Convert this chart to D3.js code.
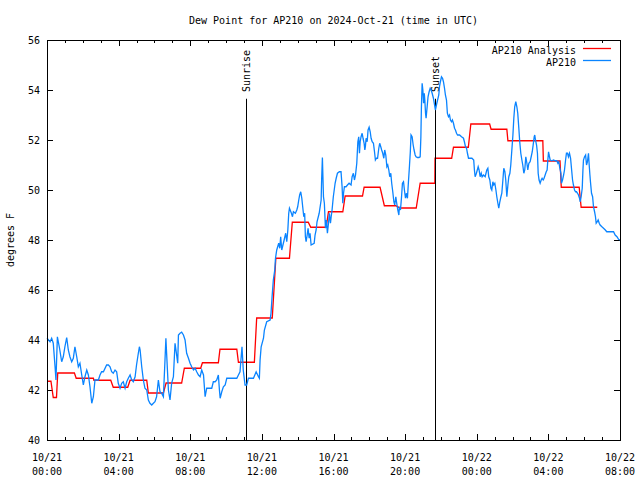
<!DOCTYPE html>
<html><head><meta charset="utf-8">
<script src="https://cdn.jsdelivr.net/npm/d3@7"></script>
<style>body{margin:0;background:#fff}svg text{font-family:"DejaVu Sans Mono","Liberation Mono",monospace;font-size:10px;fill:#000}</style>
</head><body><svg id="c" width="640" height="480"></svg>
<script>
const titleText = "Dew Point for AP210 on 2024-Oct-21 (time in UTC)";
const yLabel = "degrees F";
const seriesNames = ["AP210 Analysis", "AP210"];
const startTime = Date.UTC(2024, 9, 21, 0, 0);
const endHour = 32;
const yTicks = [40, 42, 44, 46, 48, 50, 52, 54, 56];
const sunEvents = [{label: "Sunrise", hour: 11.12}, {label: "Sunset", hour: 21.68}];

// Analysis (hourly step values): start hour, end hour, value
const anaStart = [0, 0.35, 0.6, 1.63, 2.62, 3.70, 4.64, 5.66, 6.65, 7.67, 8.68, 9.66, 10.69, 11.71, 12.78, 13.70, 14.73, 15.72, 16.65, 17.71, 18.84, 19.72, 20.84, 21.67, 22.70, 23.67, 24.80, 25.74, 27.72, 28.72, 29.83];
const anaEnd   = [0.22, 0.53, 1.53, 2.59, 3.56, 4.51, 5.57, 6.50, 7.52, 8.58, 9.57, 10.60, 11.58, 12.58, 13.54, 14.59, 15.59, 16.52, 17.62, 18.60, 19.48, 20.62, 21.66, 22.60, 23.53, 24.72, 25.68, 27.69, 28.65, 29.72, 30.73];
const anaValue = [42.35, 41.7, 42.68, 42.47, 42.39, 42.11, 42.39, 41.88, 42.28, 42.87, 43.09, 43.63, 43.11, 44.88, 47.27, 48.71, 48.51, 49.13, 49.76, 50.11, 49.37, 49.28, 50.27, 51.27, 51.71, 52.64, 52.43, 51.97, 51.16, 50.11, 49.31];

// Observations: hour offset and dew point
const obsHour = [0.00,0.17,0.26,0.35,0.45,0.50,0.58,0.70,0.82,0.91,1.00,1.10,1.19,1.28,1.38,1.47,1.56,1.66,1.75,1.84,1.94,2.03,2.12,2.22,2.31,2.40,2.50,2.59,2.68,2.77,2.87,2.96,3.05,3.15,3.33,3.43,3.52,3.61,3.70,3.80,3.89,3.98,4.08,4.17,4.26,4.36,4.45,4.54,4.64,4.73,4.82,4.92,5.00,5.10,5.16,5.20,5.29,5.38,5.47,5.57,5.66,5.75,5.85,5.94,6.03,6.12,6.22,6.31,6.40,6.50,6.59,6.64,6.68,6.78,6.87,6.96,7.06,7.15,7.24,7.30,7.34,7.43,7.52,7.62,7.71,7.80,7.90,7.99,8.08,8.18,8.27,8.36,8.46,8.55,8.64,8.74,8.83,8.92,9.02,9.11,9.20,9.29,9.39,9.48,9.57,9.63,9.67,9.76,9.85,9.95,10.04,10.22,10.41,10.60,10.69,10.78,10.83,10.89,10.96,11.06,11.15,11.25,11.53,11.68,11.81,11.86,11.90,11.96,12.09,12.14,12.27,12.46,12.51,12.57,12.64,12.72,12.76,12.83,12.94,13.00,13.05,13.11,13.22,13.33,13.39,13.45,13.50,13.54,13.65,13.71,13.76,13.87,13.95,14.00,14.06,14.11,14.17,14.23,14.28,14.34,14.39,14.43,14.47,14.53,14.58,14.64,14.69,14.75,14.92,14.97,15.03,15.08,15.20,15.31,15.34,15.38,15.44,15.49,15.55,15.60,15.66,15.72,15.77,15.83,15.87,15.92,15.99,16.09,16.15,16.22,16.33,16.42,16.48,16.52,16.56,16.61,16.70,16.78,16.87,16.98,17.04,17.11,17.17,17.23,17.30,17.36,17.41,17.45,17.49,17.54,17.60,17.65,17.71,17.75,17.78,17.82,17.88,17.93,17.99,18.05,18.10,18.16,18.23,18.29,18.34,18.40,18.46,18.53,18.58,18.64,18.69,18.75,18.81,18.86,18.92,18.98,19.03,19.09,19.14,19.20,19.25,19.31,19.37,19.42,19.48,19.53,19.59,19.65,19.68,19.74,19.80,19.85,19.91,19.96,20.02,20.07,20.13,20.18,20.24,20.29,20.33,20.39,20.45,20.50,20.56,20.61,20.69,20.77,20.84,20.88,20.91,20.95,20.99,21.03,21.07,21.10,21.14,21.17,21.23,21.28,21.34,21.40,21.45,21.51,21.58,21.69,21.77,21.88,21.92,21.97,22.03,22.09,22.14,22.20,22.25,22.31,22.36,22.42,22.48,22.53,22.59,22.64,22.70,22.76,22.81,22.87,22.93,23.04,23.15,23.26,23.31,23.37,23.43,23.48,23.54,23.73,23.83,23.87,23.91,23.98,24.08,24.13,24.19,24.25,24.30,24.38,24.47,24.56,24.62,24.67,24.73,24.79,24.84,24.90,24.95,25.01,25.07,25.12,25.18,25.23,25.29,25.35,25.40,25.46,25.51,25.57,25.62,25.68,25.74,25.79,25.85,25.90,25.96,26.02,26.07,26.12,26.18,26.24,26.29,26.35,26.40,26.46,26.52,26.57,26.63,26.68,26.74,26.80,26.85,26.91,26.98,27.04,27.10,27.15,27.21,27.24,27.28,27.34,27.39,27.43,27.48,27.54,27.60,27.65,27.71,27.76,27.82,27.88,27.93,27.97,28.01,28.04,28.10,28.19,28.29,28.38,28.47,28.53,28.58,28.64,28.70,28.73,28.79,28.85,28.90,28.96,29.01,29.07,29.12,29.18,29.24,29.29,29.35,29.40,29.46,29.52,29.57,29.63,29.68,29.74,29.78,29.83,29.89,29.93,29.96,30.02,30.08,30.13,30.18,30.24,30.28,30.32,30.35,30.41,30.47,30.52,30.58,30.63,30.67,30.73,30.78,30.84,30.89,30.99,31.08,31.18,31.26,31.45,31.64,31.73,31.83,31.92,32.00];
const obsDew = [44.07,43.93,44.07,43.87,42.93,42.40,44.13,43.67,43.13,43.33,43.73,44.10,43.60,43.33,43.13,43.27,43.73,43.33,42.93,43.07,42.60,42.20,42.53,42.80,42.60,42.13,41.47,41.73,42.40,42.40,42.40,42.60,42.73,42.73,43.00,43.00,42.93,42.73,42.67,42.80,42.73,42.27,42.07,42.27,42.33,42.07,42.33,42.47,42.60,42.40,42.33,42.53,43.00,43.47,43.73,43.60,42.93,42.40,42.07,42.00,41.60,41.47,41.40,41.47,41.53,41.73,42.40,41.93,41.87,41.73,43.20,44.07,43.47,42.00,41.60,42.27,42.53,43.87,43.40,43.07,44.20,44.27,44.31,44.20,44.00,43.47,43.27,43.07,42.93,42.80,42.87,42.73,42.60,42.53,42.80,42.60,41.73,42.07,42.07,42.07,42.07,42.33,42.33,42.40,42.60,42.00,41.67,41.93,42.13,42.20,42.47,42.47,42.47,42.47,42.60,42.73,43.20,43.73,42.80,42.20,42.20,42.47,42.47,42.73,42.53,42.47,43.20,43.73,44.07,44.40,44.73,44.80,45.07,45.73,46.40,46.80,47.27,47.60,47.87,47.67,48.13,47.60,47.93,48.27,47.93,48.40,49.07,49.27,49.07,48.93,49.13,49.07,49.20,49.33,49.60,49.80,49.93,49.67,49.33,48.93,49.07,48.13,47.93,48.20,48.47,48.07,48.27,47.80,47.87,48.20,48.40,48.73,49.07,49.60,50.47,51.30,49.73,49.47,48.47,48.80,48.27,48.67,49.07,48.67,48.93,49.20,49.73,50.27,50.47,50.67,50.73,50.73,50.13,49.47,49.87,50.13,50.13,50.20,50.27,50.20,50.53,50.67,50.40,50.60,51.07,51.93,52.13,51.47,51.93,52.13,52.27,52.07,51.87,51.60,51.73,52.07,51.93,52.40,52.51,52.33,52.07,51.93,51.87,51.53,51.20,51.27,51.27,51.67,51.87,51.73,51.60,51.47,51.27,51.60,51.40,50.93,51.00,50.80,50.53,50.67,50.27,49.93,49.53,49.40,49.73,49.47,49.20,49.00,49.33,49.20,49.73,50.27,50.33,50.00,49.67,49.87,49.67,50.27,50.93,51.53,52.20,52.13,51.80,51.60,51.40,51.33,51.30,51.30,51.33,52.13,53.33,54.27,54.00,53.47,53.87,53.60,53.07,52.87,53.33,53.73,53.93,54.07,54.00,53.87,53.67,53.20,53.47,53.80,54.13,54.33,54.53,54.47,54.33,54.07,53.80,53.60,53.07,52.93,53.00,52.80,52.73,52.80,52.67,52.47,52.40,52.27,52.20,52.20,52.13,52.07,51.93,51.73,51.67,51.47,51.27,51.27,51.20,50.80,50.53,50.67,50.93,50.80,50.53,50.67,50.53,50.60,50.53,50.80,50.87,50.53,50.40,50.07,50.00,50.33,50.20,50.27,50.00,49.73,49.47,49.27,49.53,49.73,49.87,50.40,50.87,50.73,50.40,49.73,50.20,50.53,50.67,51.00,51.60,52.20,52.87,53.33,53.53,53.33,53.07,52.47,51.93,51.47,51.20,51.00,50.67,50.80,51.33,51.07,50.80,51.07,51.13,51.33,51.53,51.80,52.13,52.20,52.00,51.80,51.47,50.67,50.40,50.27,50.40,50.47,50.40,50.47,50.60,50.73,50.80,51.20,51.53,51.40,51.20,51.17,51.20,51.17,51.17,51.07,51.13,50.87,50.67,50.27,50.40,50.60,50.80,51.20,51.47,51.47,51.33,51.47,51.27,50.87,50.40,50.20,50.00,49.93,49.93,49.87,49.80,49.67,49.53,49.73,50.07,50.80,51.20,51.33,51.40,51.00,51.13,51.47,51.00,50.60,50.33,49.87,49.73,49.33,49.13,48.93,48.67,48.73,48.80,48.67,48.60,48.53,48.47,48.40,48.33,48.33,48.33,48.20,48.13,48.03,48.00];

const svg = d3.select("#c");
const L = 47, R = 620, T = 40, B = 440;
const toDate = h => new Date(startTime + h * 3600000);
const x = d3.scaleUtc().domain([toDate(0), toDate(endHour)]).range([L, R]);
const y = d3.scaleLinear().domain([40, 56]).range([B, T]);

// ticks
const hourTicks = d3.range(0, endHour + 1).map(toDate);
const majorTicks = d3.range(0, endHour + 1, 4).map(toDate);
const tg = svg.append("g").attr("stroke", "#000").attr("stroke-width", 1).attr("shape-rendering", "crispEdges");
hourTicks.forEach(d => {
  const isMajor = d.getUTCHours() % 4 === 0;
  const len = isMajor ? 6 : 3;
  const xx = Math.round(x(d)) + 0.5;
  tg.append("line").attr("x1", xx).attr("x2", xx).attr("y1", B).attr("y2", B - len);
  tg.append("line").attr("x1", xx).attr("x2", xx).attr("y1", T).attr("y2", T + len);
});
yTicks.forEach(v => {
  const yy = Math.round(y(v)) + 0.5;
  tg.append("line").attr("x1", L).attr("x2", L + 6).attr("y1", yy).attr("y2", yy);
  tg.append("line").attr("x1", R).attr("x2", R - 6).attr("y1", yy).attr("y2", yy);
});

// tick labels
const fmtDate = d3.utcFormat("%m/%d"), fmtTime = d3.utcFormat("%H:%M");
majorTicks.forEach(d => {
  const g = svg.append("g").attr("text-anchor", "middle");
  g.append("text").attr("x", x(d)).attr("y", 461).text(fmtDate(d));
  g.append("text").attr("x", x(d)).attr("y", 475).text(fmtTime(d));
});
yTicks.forEach(v => {
  svg.append("text").attr("x", 40).attr("y", y(v) + 4).attr("text-anchor", "end").text(v);
});

// title & axis label
svg.append("text").attr("x", (L + R) / 2).attr("y", 24).attr("text-anchor", "middle").text(titleText);
svg.append("text").attr("transform", "translate(14,240) rotate(-90)").attr("text-anchor", "middle").text(yLabel);

// analysis step line
const anaPts = [];
anaValue.forEach((v, i) => { anaPts.push([anaStart[i], v]); anaPts.push([anaEnd[i], v]); });
const line = d3.line().x(d => x(toDate(d[0]))).y(d => y(d[1]));
svg.append("path").datum(anaPts).attr("d", line).attr("fill", "none").attr("stroke", "#ff0000").attr("stroke-width", 1.3);

// sunrise / sunset
sunEvents.forEach(e => {
  const xx = Math.round(x(toDate(e.hour))) + 0.5;
  svg.append("line").attr("x1", xx).attr("x2", xx).attr("y1", B).attr("y2", y(53.65)).attr("stroke", "#000").attr("stroke-width", 1);
  svg.append("text").attr("transform", `translate(${xx},92) rotate(-90)`).attr("dy", "0.35em").text(e.label);
});

// observations
const obsPts = obsHour.map((h, i) => [h, obsDew[i]]);
svg.append("path").datum(obsPts).attr("d", line).attr("fill", "none").attr("stroke", "#0a84ff").attr("stroke-width", 1.3);

// frame
svg.append("rect").attr("x", L + 0.5).attr("y", T + 0.5).attr("width", R - L).attr("height", B - T)
  .attr("fill", "none").attr("stroke", "#000").attr("shape-rendering", "crispEdges");

// legend
const legColors = ["#ff0000", "#0a84ff"];
seriesNames.forEach((n, i) => {
  const ly = 50 + i * 12;
  svg.append("text").attr("x", 576).attr("y", ly + 4).attr("text-anchor", "end").text(n);
  svg.append("line").attr("x1", 583).attr("x2", 611).attr("y1", ly - 1.5).attr("y2", ly - 1.5).attr("stroke", legColors[i]).attr("stroke-width", 1.3);
});
</script></body></html>
